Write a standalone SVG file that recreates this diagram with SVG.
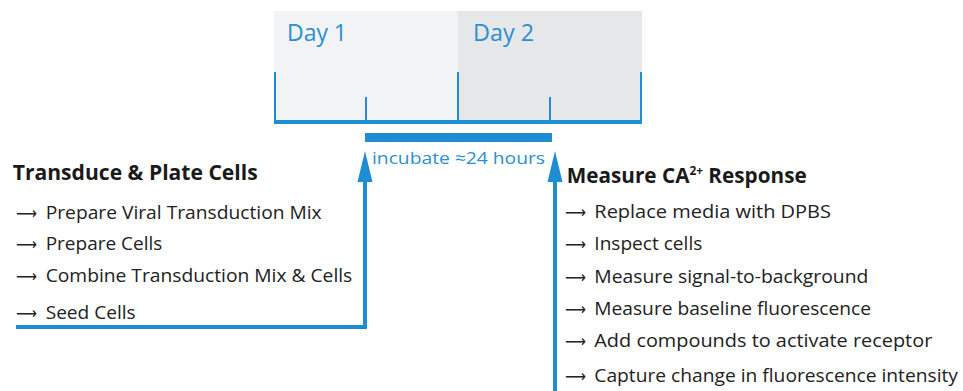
<svg xmlns="http://www.w3.org/2000/svg" width="963" height="391" viewBox="0 0 963 391">
<style>
.blue{fill:#1f8dd3}
.ln{stroke:#1f8dd3;fill:none}
text{font-family:"Open Sans",Lato,sans-serif}
.h{font-weight:bold;font-size:21px;fill:#1a1a1a}
.t{font-size:18px;fill:#222}
.ar{font-family:"DejaVu Sans",sans-serif;font-size:17px;fill:#222}
.day{font-size:23px;fill:#2a8fd4}
.inc{font-size:17px;fill:#2a8fd4}
</style>
<g id="timeline">
<rect x="274" y="11" width="184" height="111" fill="#f2f3f5"/>
<rect x="458" y="11" width="184" height="111" fill="#e6e7e9"/>
<text class="day" x="287" y="41" textLength="60" lengthAdjust="spacingAndGlyphs">Day 1</text>
<text class="day" x="473" y="41" textLength="61" lengthAdjust="spacingAndGlyphs">Day 2</text>
<g class="ln" stroke-width="2">
<line x1="275" y1="72" x2="275" y2="122"/>
<line x1="366" y1="97" x2="366" y2="122"/>
<line x1="458" y1="72" x2="458" y2="122"/>
<line x1="550" y1="97" x2="550" y2="122"/>
<line x1="641" y1="72" x2="641" y2="122"/>
</g>
<rect x="274" y="120" width="368" height="4" class="blue"/>
</g>
<g id="incubate">
<rect x="365" y="133" width="187" height="9" class="blue"/>
<text class="inc" x="372" y="164" textLength="173" lengthAdjust="spacingAndGlyphs">incubate ≈24 hours</text>
</g>
<g id="connectors">
<polyline class="ln" stroke-width="4" points="16,327 365,327 365,178"/>
<polygon class="blue" points="365,151 357.5,182 372.5,182"/>
<line class="ln" stroke-width="4" x1="555" y1="391" x2="555" y2="178"/>
<polygon class="blue" points="555,151 547.5,182 562.5,182"/>
</g>
<g id="transduce">
<text class="h" x="12.7" y="180" textLength="245" lengthAdjust="spacingAndGlyphs">Transduce &amp; Plate Cells</text>
<text class="ar" x="16" y="219" textLength="21" lengthAdjust="spacingAndGlyphs">⟶</text><text class="t" x="45.7" y="219" textLength="276" lengthAdjust="spacingAndGlyphs">Prepare Viral Transduction Mix</text>
<text class="ar" x="16" y="250" textLength="21" lengthAdjust="spacingAndGlyphs">⟶</text><text class="t" x="45.7" y="250" textLength="116.6" lengthAdjust="spacingAndGlyphs">Prepare Cells</text>
<text class="ar" x="16" y="282" textLength="21" lengthAdjust="spacingAndGlyphs">⟶</text><text class="t" x="45.7" y="282" textLength="306.6" lengthAdjust="spacingAndGlyphs">Combine Transduction Mix &amp; Cells</text>
<text class="ar" x="16" y="319" textLength="21" lengthAdjust="spacingAndGlyphs">⟶</text><text class="t" x="45.7" y="319" textLength="90" lengthAdjust="spacingAndGlyphs">Seed Cells</text>
</g>
<g id="measure">
<text class="h" x="566.7" y="183" textLength="240" lengthAdjust="spacingAndGlyphs">Measure CA<tspan font-size="12" dy="-8">2+</tspan><tspan dy="8"> Response</tspan></text>
<text class="ar" x="565" y="218" textLength="21" lengthAdjust="spacingAndGlyphs">⟶</text><text class="t" x="594.3" y="218" textLength="236.7" lengthAdjust="spacingAndGlyphs">Replace media with DPBS</text>
<text class="ar" x="565" y="250" textLength="21" lengthAdjust="spacingAndGlyphs">⟶</text><text class="t" x="594.3" y="250" textLength="108" lengthAdjust="spacingAndGlyphs">Inspect cells</text>
<text class="ar" x="565" y="283" textLength="21" lengthAdjust="spacingAndGlyphs">⟶</text><text class="t" x="594.3" y="283" textLength="274" lengthAdjust="spacingAndGlyphs">Measure signal-to-background</text>
<text class="ar" x="565" y="315" textLength="21" lengthAdjust="spacingAndGlyphs">⟶</text><text class="t" x="594.3" y="315" textLength="276.7" lengthAdjust="spacingAndGlyphs">Measure baseline fluorescence</text>
<text class="ar" x="565" y="347" textLength="21" lengthAdjust="spacingAndGlyphs">⟶</text><text class="t" x="594.3" y="347" textLength="338" lengthAdjust="spacingAndGlyphs">Add compounds to activate receptor</text>
<text class="ar" x="565" y="382" textLength="21" lengthAdjust="spacingAndGlyphs">⟶</text><text class="t" x="594.3" y="382" textLength="363.7" lengthAdjust="spacingAndGlyphs">Capture change in fluorescence intensity</text>
</g>
</svg>
